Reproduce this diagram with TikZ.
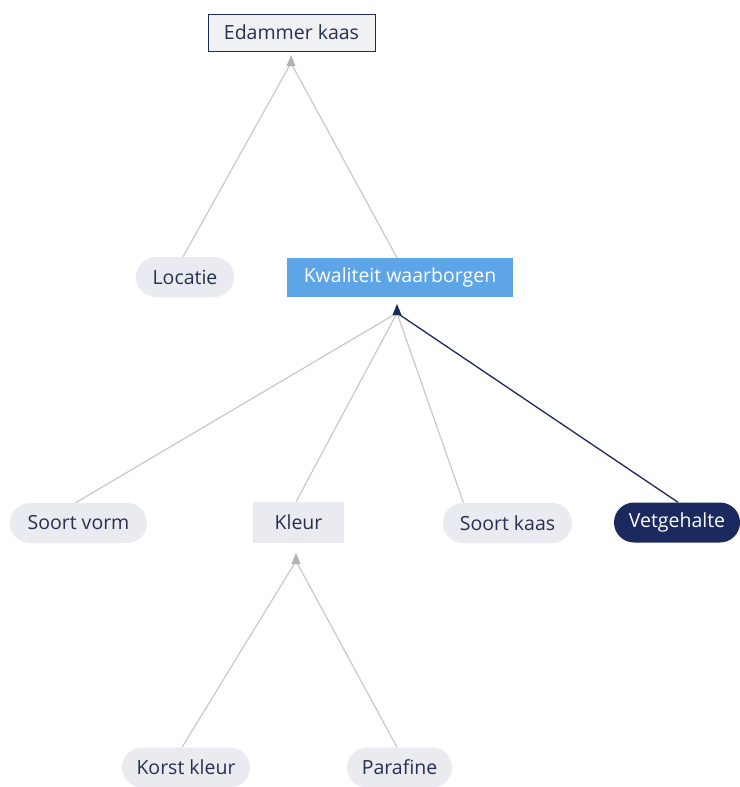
\documentclass[tikz,border=0pt]{standalone}
\usepackage{fontspec}
\setmainfont{Open Sans}
\usetikzlibrary{arrows.meta,calc}
\definecolor{navy}{HTML}{1B2A5E}
\definecolor{pillgray}{HTML}{E9EBF1}
\definecolor{boxblue}{HTML}{5EA5E8}
\definecolor{linegray}{HTML}{C9C9C9}
\definecolor{tipgray}{HTML}{B3B3B3}
\definecolor{txt}{HTML}{263050}
\tikzset{
  base/.style={inner sep=0pt, font=\fontsize{19.5}{22}\selectfont, text=txt, minimum height=40pt},
  pill/.style={base, fill=pillgray, rounded corners=20pt},
  graybox/.style={base, fill=pillgray},
  topbox/.style={base, fill=pillgray!70!white, draw=navy, line width=1pt, minimum height=37pt},
  bluebox/.style={base, fill=boxblue, text=white, minimum height=39pt},
  darkpill/.style={pill, fill=navy, text=white},
  edge/.style={draw=linegray, line width=1.2pt},
  darkedge/.style={draw=navy, line width=1.3pt},
}
\begin{document}
\begin{tikzpicture}[x=1pt,y=-1pt]
\useasboundingbox (0,0) rectangle (739,787);
\fill[white] (0,0) rectangle (739,787);
% nodes
\node[topbox, minimum width=167pt] (edam) at (291.5,32.5) {Edammer kaas};
\node[pill, minimum width=98pt] (loc) at (185,277) {Locatie};
\node[bluebox, minimum width=226pt] (kw) at (400,277.5) {Kwaliteit waarborgen};
\node[pill, minimum width=137pt] (sv) at (78.5,523) {Soort vorm};
\node[graybox, minimum width=91pt, minimum height=41pt] (kl) at (298.5,522.5) {Kleur};
\node[pill, minimum width=129pt] (sk) at (507.5,523) {Soort kaas};
\node[darkpill, minimum width=126pt] (vg) at (677,522.5) {Vetgehalte};
\node[pill, minimum width=128pt] (kk) at (186,767.5) {Korst kleur};
\node[pill, minimum width=105pt] (pf) at (399.5,767.5) {Parafine};
% convergence points
\coordinate (c1) at (291,63);
\coordinate (c2) at (397,313);
\coordinate (c3) at (296,561);
% edges to Edammer kaas
\draw[edge] ($(loc.north)+(-2,0)$) -- (c1);
\draw[edge] ($(kw.north)+(-3,0)$) -- (c1);
\fill[tipgray] (291,55) -- (295.5,66) -- (286.5,66) -- cycle;
% edges to Kwaliteit waarborgen
\draw[edge] ($(sv.north)+(-3,0)$) -- (c2);
\draw[edge] ($(kl.north)+(-2.5,0)$) -- (c2);
\draw[edge] ($(sk.north)+(-44,0)$) -- (c2);
\draw[darkedge] ($(vg.north)+(1,0)$) -- (c2);
\fill[navy] (397,304) -- (401.5,315) -- (392.5,315) -- cycle;
% edges to Kleur
\draw[edge] ($(kk.north)+(-4,0)$) -- (c3);
\draw[edge] ($(pf.north)+(-2.5,0)$) -- (c3);
\fill[tipgray] (296,553) -- (300.5,564) -- (291.5,564) -- cycle;
\end{tikzpicture}
\end{document}
